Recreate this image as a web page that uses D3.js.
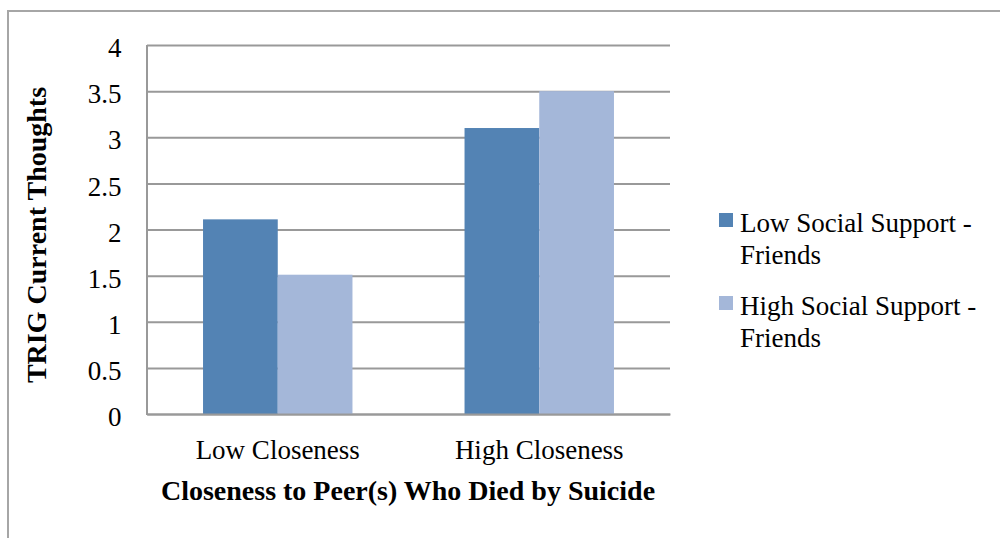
<!DOCTYPE html>
<html>
<head>
<meta charset="utf-8">
<script src="https://cdn.jsdelivr.net/npm/d3@7"></script>
<style>
  html, body { margin: 0; padding: 0; background: #fff; }
  svg { display: block; }
  text { font-family: "Liberation Serif", "Times New Roman", serif; fill: #000; }
</style>
</head>
<body>
<svg id="chart" width="1000" height="538"></svg>
<script>
// Mean TRIG current-thoughts scores by closeness and social support from friends
const categories = ["Low Closeness", "High Closeness"];
const seriesNames = ["Low Social Support - Friends", "High Social Support - Friends"];
const lowSupport = [2.11, 3.10];
const highSupport = [1.51, 3.50];
const yTickLabels = ["0", "0.5", "1", "1.5", "2", "2.5", "3", "3.5", "4"];
const xTitle = "Closeness to Peer(s) Who Died by Suicide";
const yTitle = "TRIG Current Thoughts";

const colors = ["#5383b4", "#a4b7d9"];
const seriesValues = [lowSupport, highSupport];

const svg = d3.select("#chart");

// chart frame (left and top edges visible)
svg.append("rect")
  .attr("x", 8).attr("y", 11)
  .attr("width", 1100).attr("height", 700)
  .attr("fill", "none")
  .attr("stroke", "#a6a6a6")
  .attr("stroke-width", 2);

const plot = { left: 147, right: 670, top: 45, bottom: 414 };

const y = d3.scaleLinear().domain([0, 4]).range([plot.bottom, plot.top]);
const x0 = d3.scaleBand().domain(categories).range([plot.left, plot.right]);
const x1 = d3.scaleBand().domain(d3.range(seriesNames.length))
  .range([0, x0.bandwidth()]).paddingInner(0).paddingOuter(0.75);

// gridlines + y tick labels
const yAxis = d3.axisLeft(y)
  .tickValues(yTickLabels.map(Number))
  .tickFormat((d, i) => yTickLabels[i])
  .tickSize(-(plot.right - plot.left))
  .tickPadding(25.5);

const gy = svg.append("g")
  .attr("transform", `translate(${plot.left},0)`)
  .call(yAxis);
gy.select(".domain").remove();
gy.selectAll(".tick line").attr("stroke", "#999").attr("stroke-width", 2);
gy.selectAll(".tick text")
  .attr("font-family", "Liberation Serif")
  .attr("font-size", 27)
  .attr("dy", "0.43em")
  .attr("fill", "#000");

// bars
const groups = svg.append("g").selectAll("g")
  .data(categories)
  .join("g")
  .attr("transform", d => `translate(${x0(d)},0)`);

groups.selectAll("rect")
  .data((c, ci) => seriesValues.map((vals, si) => ({ si, v: vals[ci] })))
  .join("rect")
  .attr("x", d => x1(d.si))
  .attr("width", x1.bandwidth())
  .attr("y", d => y(d.v))
  .attr("height", d => y(0) - y(d.v))
  .attr("fill", d => colors[d.si]);

// value and category axis lines
svg.append("line")
  .attr("x1", plot.left).attr("x2", plot.left)
  .attr("y1", plot.top).attr("y2", plot.bottom + 1)
  .attr("stroke", "#999").attr("stroke-width", 2);

const xAxis = d3.axisBottom(x0).tickSize(0).tickPadding(26);
const gx = svg.append("g")
  .attr("transform", `translate(0,${plot.bottom})`)
  .call(xAxis);
gx.select(".domain").attr("stroke", "#999").attr("stroke-width", 2);
gx.selectAll(".tick text")
  .attr("font-family", "Liberation Serif")
  .attr("font-size", 27)
  .attr("fill", "#000");

// axis titles
svg.append("text")
  .attr("x", 408).attr("y", 500)
  .attr("text-anchor", "middle")
  .attr("font-size", 28)
  .attr("font-weight", "bold")
  .text(xTitle);

svg.append("text")
  .attr("transform", "translate(46,235) rotate(-90)")
  .attr("text-anchor", "middle")
  .attr("font-size", 28)
  .attr("font-weight", "bold")
  .text(yTitle);

// legend
const legendTop = [213, 296];
const legend = svg.append("g").selectAll("g")
  .data(seriesNames)
  .join("g")
  .attr("transform", (d, i) => `translate(719,${legendTop[i]})`);

legend.append("rect")
  .attr("width", 14).attr("height", 14)
  .attr("fill", (d, i) => colors[i]);

legend.append("text")
  .attr("font-size", 27)
  .selectAll("tspan")
  .data(d => {
    const cut = d.indexOf("- ");
    return [d.slice(0, cut + 1), d.slice(cut + 2)];
  })
  .join("tspan")
  .attr("x", 21)
  .attr("y", (d, i) => 19 + i * 31.5)
  .text(d => d);
</script>
</body>
</html>
